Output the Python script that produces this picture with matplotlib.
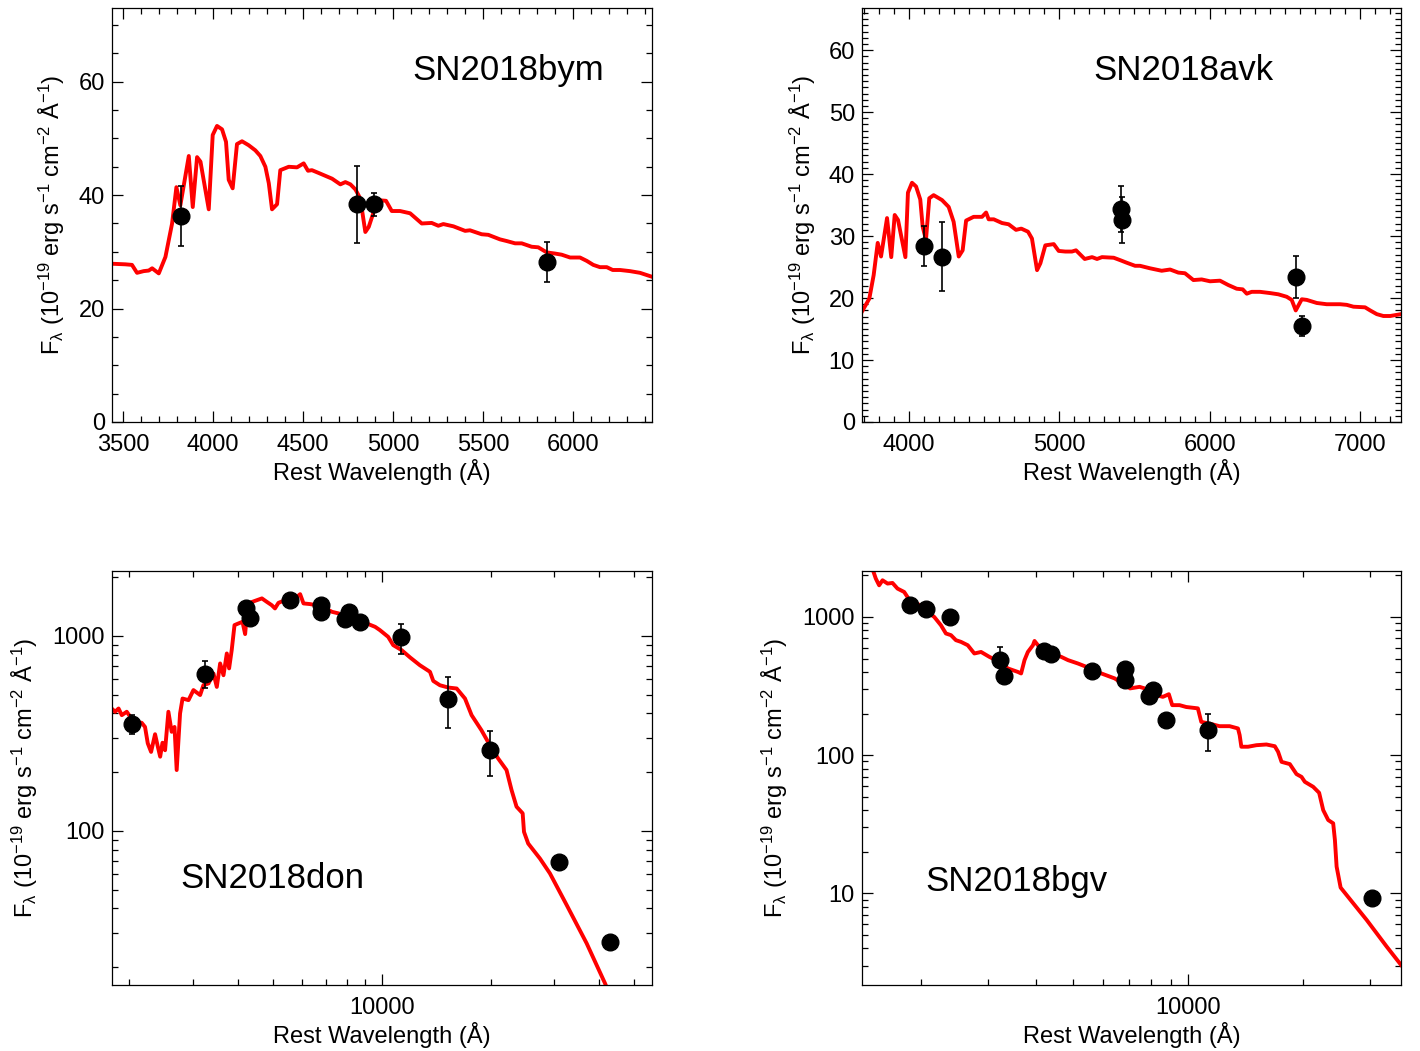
import numpy as np
import matplotlib
matplotlib.use("Agg")
import matplotlib.pyplot as plt
import matplotlib.ticker as ticker

plt.rcParams['font.family'] = ['Liberation Sans', 'DejaVu Sans']
plt.rcParams['mathtext.default'] = 'regular'

# ---- SN2018bym (linear) ----
bym_wave = [3437, 3511, 3548, 3576, 3613, 3641, 3660, 3697, 3734, 3771, 3795, 3817, 3864, 3886,
            3910, 3929, 3975, 3997, 4021, 4049, 4071, 4086, 4108, 4132, 4160, 4197, 4234, 4262,
            4290, 4309, 4327, 4355, 4373, 4420, 4466, 4503, 4527, 4549, 4587, 4624, 4661, 4707,
            4735, 4763, 4791, 4818, 4846, 4865, 4893, 4921, 4961, 4993, 5039, 5095, 5160, 5215,
            5252, 5280, 5336, 5401, 5428, 5493, 5530, 5595, 5633, 5679, 5716, 5771, 5808, 5855,
            5901, 5938, 5985, 6040, 6078, 6114, 6151, 6189, 6222, 6263, 6318, 6374, 6441]
bym_flux = [27.9, 27.8, 27.7, 26.3, 26.6, 26.7, 27.1, 26.2, 29.1, 35.0, 41.4, 38.2, 46.9, 37.9,
            46.7, 45.9, 37.5, 50.6, 52.2, 51.6, 49.4, 42.7, 41.2, 49.0, 49.5, 48.8, 47.9, 46.9,
            45.0, 42.1, 37.5, 38.4, 44.4, 45.0, 44.9, 45.6, 44.3, 44.4, 43.9, 43.4, 42.9, 41.9,
            42.3, 41.9, 41.0, 39.4, 33.5, 34.4, 37.1, 39.1, 39.0, 37.2, 37.2, 36.8, 35.0, 35.1,
            34.6, 34.9, 34.5, 33.7, 33.8, 33.1, 33.0, 32.2, 31.9, 31.5, 31.5, 30.9, 30.8, 29.9,
            29.7, 29.5, 29.0, 29.0, 28.4, 27.7, 27.3, 27.3, 26.8, 26.8, 26.6, 26.3, 25.6]
bym_phot_wave = [3821, 4800, 4893, 5855]
bym_phot_flux = [36.3, 38.4, 38.4, 28.2]
bym_phot_err = [5.3, 6.8, 2.0, 3.6]

# ---- SN2018avk (linear) ----
avk_wave = [3687, 3736, 3765, 3792, 3814, 3854, 3882, 3905, 3927, 3976, 3993, 4020, 4047, 4075,
            4091, 4113, 4135, 4164, 4220, 4264, 4297, 4331, 4357, 4380, 4430, 4486, 4513, 4530,
            4564, 4619, 4663, 4712, 4747, 4792, 4818, 4852, 4874, 4907, 4963, 4996, 5040, 5084,
            5111, 5169, 5218, 5251, 5284, 5362, 5406, 5448, 5504, 5537, 5603, 5681, 5737, 5792,
            5836, 5892, 5947, 6003, 6069, 6124, 6180, 6220, 6247, 6280, 6335, 6402, 6457, 6513,
            6546, 6573, 6613, 6646, 6713, 6779, 6868, 6912, 6957, 7034, 7068, 7112, 7156, 7201, 7273]
avk_flux = [17.8, 19.9, 23.7, 28.9, 26.7, 32.9, 26.6, 33.4, 32.6, 26.6, 37.0, 38.6, 38.0, 35.9,
            31.5, 29.4, 36.1, 36.6, 35.8, 34.7, 32.3, 26.7, 27.7, 32.5, 33.1, 33.1, 33.8, 32.7,
            32.7, 32.1, 31.9, 31.0, 31.2, 30.7, 29.6, 24.5, 25.6, 28.5, 28.7, 27.6, 27.5, 27.5,
            27.7, 26.3, 26.6, 26.3, 26.6, 26.5, 26.1, 25.7, 25.2, 25.2, 24.8, 24.4, 24.6, 24.1,
            24.0, 22.9, 23.0, 22.7, 22.8, 22.1, 21.5, 21.4, 20.7, 21.0, 21.0, 20.8, 20.6, 20.2,
            19.7, 18.0, 19.8, 19.7, 19.2, 19.0, 19.0, 18.9, 18.6, 18.5, 18.0, 17.4, 17.1, 17.1, 17.4]
avk_phot_wave = [4098, 4220, 5410, 5417, 6573, 6617]
avk_phot_flux = [28.4, 26.7, 34.3, 32.6, 23.4, 15.5]
avk_phot_err = [3.2, 5.5, 3.7, 3.7, 3.4, 1.6]

# ---- SN2018don (log-log) ----
don_wave = [1786, 1825, 1866, 1905, 1966, 2010, 2096, 2163, 2209, 2248, 2296, 2355, 2397, 2433,
            2469, 2510, 2564, 2618, 2666, 2703, 2762, 2806, 2915, 3008, 3139, 3206, 3311, 3418,
            3491, 3566, 3643, 3721, 3776, 3839, 3908, 4009, 4112, 4182, 4256, 4457, 4654, 4801,
            4955, 5059, 5171, 5396, 5752, 5939, 6068, 6326, 6800, 7275, 7590, 8990, 9580, 9874,
            10410, 10750, 11340, 11970, 12740, 13590, 13880, 14480, 15280, 16110, 16990, 17720,
            18870, 19910, 20990, 22140, 22860, 23600, 24540, 24750, 25420, 27400, 29200, 32500,
            36900, 41500, 43000]
don_flux = [424, 408, 424, 392, 408, 385, 362, 358, 341, 281, 254, 313, 270, 240,
            283, 259, 408, 322, 341, 205, 400, 477, 468, 527, 497, 559, 570, 641,
            547, 722, 628, 812, 681, 845, 1135, 1158, 1180, 1021, 1466, 1512, 1556, 1494,
            1436, 1382, 1476, 1524, 1556, 1636, 1466, 1455, 1420, 1328, 1303, 1166, 1112, 1070,
            988, 896, 845, 775, 707, 654, 587, 558, 543, 537, 477, 392,
            328, 275, 235, 205, 162, 133, 123, 98.8, 86.1, 72.1, 60.5, 41.6,
            26.5, 16.5, 14.0]
don_phot_wave = [2039, 3241, 4201, 4317, 5569, 6790, 6790, 8087, 7914, 8709, 11290, 15262, 19910,
                 30985, 42810]
don_phot_flux = [355, 641, 1382, 1237, 1524, 1437, 1328, 1328, 1213, 1180, 981, 477, 259, 69.3, 27.0]
don_phot_err = [40, 100, 0, 0, 0, 0, 0, 0, 0, 0, 170, 140, 68, 0, 0]

# ---- SN2018bgv (log-log) ----
bgv_wave = [1476, 1522, 1553, 1585, 1634, 1683, 1735, 1806, 1879, 1998, 2080, 2165, 2254, 2323,
            2395, 2467, 2544, 2650, 2757, 2871, 3019, 3207, 3375, 3584, 3655, 3731, 3807, 3925,
            3963, 4045, 4169, 4383, 4656, 4849, 5152, 5470, 5929, 6426, 7050, 7465, 7696, 8253,
            8590, 8906, 9090, 9500, 9890, 10610, 10830, 11390, 12090, 12850, 13510, 13650, 13790,
            14360, 15100, 16040, 16870, 17210, 17570, 18470, 19230, 19820, 20220, 21260, 22040,
            22590, 23280, 23990, 24240, 24490, 25090, 27070, 29360, 33130, 36120]
bgv_flux = [2432, 1895, 1694, 1842, 1744, 1762, 1604, 1516, 1284, 1215, 1087, 1000, 871, 759,
            738, 679, 660, 624, 544, 558, 514, 473, 424, 400, 390, 487, 558, 624,
            670, 624, 591, 544, 514, 487, 460, 431, 390, 359, 304, 312, 304, 272,
            264, 276, 230, 230, 223, 218, 174, 169, 162, 162, 156, 139.5, 115,
            115, 118, 119.4, 116, 105.7, 89.4, 86.1, 72.9, 69.6, 64.1, 59.0, 53.4,
            40.0, 33.9, 32.1, 24.3, 15.6, 11.0, 8.47, 6.41, 4.11, 3.03]
bgv_phot_wave = [1873, 2059, 2384, 3227, 3304, 4207, 4383, 5610, 6823, 6823, 8085, 7886, 8770,
                 11270, 30370]
bgv_phot_flux = [1215, 1150, 1000, 487, 373, 565, 543, 405, 417, 349, 295, 267, 181, 152, 9.29]
bgv_phot_err = [0, 0, 0, 120, 0, 0, 0, 0, 0, 0, 0, 0, 0, 45, 0]

ylab = 'F$_λ$ (10$^{-19}$ erg s$^{-1}$ cm$^{-2}$ Å$^{-1}$)'
xlab = 'Rest Wavelength (Å)'


def draw(ax, wave, flux, pw, pf, pe, name, npos):
    ax.plot(wave, flux, color='#ff0000', lw=2.8, zorder=2)
    ax.errorbar(pw, pf, yerr=pe, fmt='o', color='black', ms=12, ecolor='black',
                elinewidth=1.2, capsize=2.2, capthick=1.2, zorder=3)
    ax.text(npos[0], npos[1], name, transform=ax.transAxes, fontsize=25,
            ha='center', va='center')
    ax.set_xlabel(xlab, fontsize=17)
    ax.set_ylabel(ylab, fontsize=17)
    ax.tick_params(which='both', direction='in', top=True, right=True, labelsize=17)
    ax.tick_params(which='major', length=8, width=0.9)
    ax.tick_params(which='minor', length=4.5, width=0.9)
    ax.tick_params(axis='x', pad=9)
    ax.tick_params(axis='y', pad=5)
    for s in ax.spines.values():
        s.set_linewidth(0.9)
    ax.xaxis.set_label_coords(0.5, -0.089)


fig = plt.figure(figsize=(14.2, 10.51), dpi=100)

ax1 = fig.add_axes([0.0789, 0.5985, 0.3803, 0.3939])
draw(ax1, bym_wave, bym_flux, bym_phot_wave, bym_phot_flux, bym_phot_err, 'SN2018bym', (0.733, 0.85))
ax1.set_xlim(3437, 6441)
ax1.set_ylim(0, 73)
ax1.xaxis.set_major_locator(ticker.MultipleLocator(500))
ax1.xaxis.set_minor_locator(ticker.MultipleLocator(100))
ax1.yaxis.set_major_locator(ticker.MultipleLocator(20))
ax1.yaxis.set_minor_locator(ticker.MultipleLocator(5))
ax1.yaxis.set_label_coords(-0.083, 0.5)

ax2 = fig.add_axes([0.6070, 0.5985, 0.3796, 0.3939])
draw(ax2, avk_wave, avk_flux, avk_phot_wave, avk_phot_flux, avk_phot_err, 'SN2018avk', (0.596, 0.85))
ax2.set_xlim(3687, 7273)
ax2.set_ylim(0, 66.8)
ax2.xaxis.set_major_locator(ticker.MultipleLocator(1000))
ax2.xaxis.set_minor_locator(ticker.MultipleLocator(100))
ax2.yaxis.set_major_locator(ticker.MultipleLocator(10))
ax2.yaxis.set_minor_locator(ticker.MultipleLocator(1))
ax2.yaxis.set_label_coords(-0.081, 0.5)

fmt = ticker.FuncFormatter(lambda v, p: '%d' % round(v))

ax3 = fig.add_axes([0.0789, 0.0628, 0.3803, 0.3939])
draw(ax3, don_wave, don_flux, don_phot_wave, don_phot_flux, don_phot_err, 'SN2018don', (0.296, 0.258))
ax3.set_xscale('log')
ax3.set_yscale('log')
ax3.set_xlim(1790, 56000)
ax3.set_ylim(16.2, 2150)
ax3.yaxis.set_label_coords(-0.133, 0.5)

ax4 = fig.add_axes([0.6070, 0.0628, 0.3796, 0.3939])
draw(ax4, bgv_wave, bgv_flux, bgv_phot_wave, bgv_phot_flux, bgv_phot_err, 'SN2018bgv', (0.286, 0.249))
ax4.set_xscale('log')
ax4.set_yscale('log')
ax4.set_xlim(1400, 36100)
ax4.set_ylim(2.17, 2150)
ax4.yaxis.set_label_coords(-0.133, 0.5)

for ax in (ax3, ax4):
    for a in (ax.xaxis, ax.yaxis):
        a.set_major_locator(ticker.LogLocator(base=10, numticks=20))
        a.set_minor_locator(ticker.LogLocator(base=10, subs=np.arange(2, 10), numticks=20))
        a.set_major_formatter(fmt)
        a.set_minor_formatter(ticker.NullFormatter())

fig.savefig('out.png', dpi=100)
